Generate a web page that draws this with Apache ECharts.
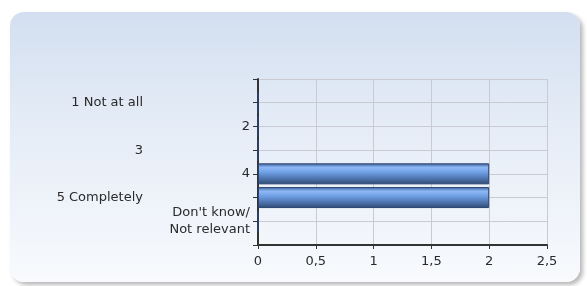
<!DOCTYPE html>
<html>
<head>
<meta charset="utf-8">
<script src="https://cdn.jsdelivr.net/npm/echarts@6/dist/echarts.min.js"></script>
<style>
  html, body { margin: 0; padding: 0; background: #ffffff; }
  #panel {
    position: absolute; left: 10px; top: 12px; width: 570px; height: 270px;
    border-radius: 14px;
    background: linear-gradient(to bottom, #d3dff0 0%, #e6edf7 45%, #f8fafd 100%);
    box-shadow: 3px 3px 4px rgba(0, 0, 0, 0.28);
  }
  #chart { position: absolute; left: 0; top: 0; width: 587px; height: 286px; }
</style>
</head>
<body>
<div id="panel"></div>
<div id="chart"></div>
<script>
// categories (empty ones pad the top and bottom of the axis)
const categories = ['', '1 Not at all', '2', '3', '4', '5 Completely', "Don't know/\nNot relevant", ''];
// number of answers per category
const values = [null, 0, 0, 0, 2, 2, 0, null];
// x axis range
const xMax = 2.5;
const xStep = 0.5;

const chart = echarts.init(document.getElementById('chart'));

chart.setOption({
    animation: false,
    textStyle: { fontFamily: 'DejaVu Sans' },
    grid: { left: 258, right: 40, top: 79, bottom: 41 },
    xAxis: {
        type: 'value',
        min: 0,
        max: xMax,
        interval: xStep,
        axisLine: { show: true, lineStyle: { color: '#333', width: 2 } },
        axisTick: { show: true, length: 4, lineStyle: { color: '#333' } },
        axisLabel: {
            margin: 10,
            fontSize: 13,
            color: '#2a2a2a',
            formatter: function (v) { return String(v).replace('.', ','); }
        },
        splitLine: { show: true, lineStyle: { color: '#c8ccd2', width: 1 } }
    },
    yAxis: {
        type: 'category',
        data: categories,
        inverse: true,
        boundaryGap: false,
        axisLine: { show: true, lineStyle: { color: '#333', width: 2 } },
        axisTick: { show: true, length: 5, interval: 0, lineStyle: { color: '#333' } },
        axisLabel: {
            interval: 0,
            margin: 8,
            fontSize: 13,
            color: '#2a2a2a',
            formatter: function (v, i) {
                if (!v) return '';
                return i % 2 === 1 ? '{far|' + v + '}' : v.split('\n').map(function (s) { return '{near|' + s + '}'; }).join('\n');
            },
            rich: {
                far: { fontSize: 13, color: '#2a2a2a', padding: [0, 107, 0, 0] },
                near: { fontSize: 13, color: '#2a2a2a', lineHeight: 17 }
            }
        },
        splitLine: { show: true, interval: 0, lineStyle: { color: '#c8ccd2', width: 1 } }
    },
    series: [{
        type: 'bar',
        data: values,
        barWidth: 21,
        itemStyle: {
            borderColor: '#2a4470',
            borderWidth: 1,
            color: new echarts.graphic.LinearGradient(0, 0, 0, 1, [
                { offset: 0, color: '#3d619c' },
                { offset: 0.2, color: '#8db8f6' },
                { offset: 0.45, color: '#6c9ce0' },
                { offset: 0.8, color: '#46699f' },
                { offset: 1, color: '#2c4670' }
            ])
        }
    }]
});
</script>
</body>
</html>
